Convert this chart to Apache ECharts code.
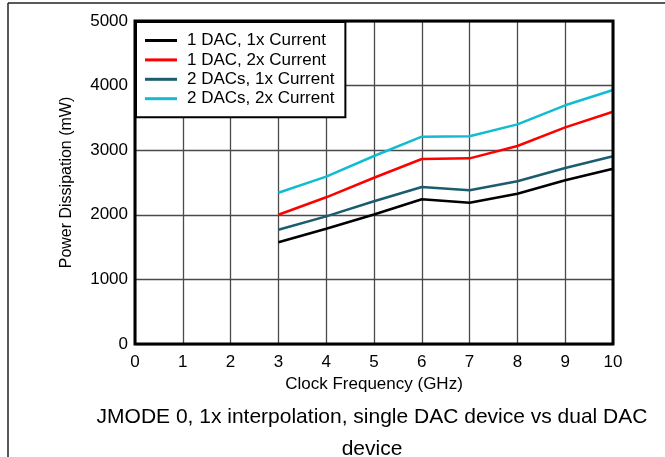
<!DOCTYPE html>
<html>
<head>
<meta charset="utf-8">
<script src="https://cdn.jsdelivr.net/npm/echarts@6/dist/echarts.min.js"></script>
<style>
  html, body { margin: 0; padding: 0; background: #fff; }
  #chart { width: 665px; height: 457px; }
</style>
</head>
<body>
<div id="chart"></div>
<script>
// Clock frequency (GHz) and power dissipation (mW) per configuration
const freqGHz = [3, 4, 5, 6, 7, 8, 9, 10];
const oneDac1x = [1575, 1785, 2005, 2240, 2187, 2327, 2534, 2713];
const oneDac2x = [2001, 2271, 2574, 2864, 2874, 3065, 3354, 3596];
const twoDac1x = [1769, 1976, 2209, 2430, 2379, 2520, 2724, 2905];
const twoDac2x = [2342, 2590, 2910, 3209, 3215, 3400, 3695, 3932];

const seriesNames = ['1 DAC, 1x Current', '1 DAC, 2x Current', '2 DACs, 1x Current', '2 DACs, 2x Current'];
const seriesColors = ['#000000', '#ff0000', '#1b5d6e', '#12bcd0'];
const seriesValues = [oneDac1x, oneDac2x, twoDac1x, twoDac2x];

const xTicks = [0, 1, 2, 3, 4, 5, 6, 7, 8, 9, 10];
const yTicks = [0, 1000, 2000, 3000, 4000, 5000];

const FONT = '"Liberation Sans", Arial, sans-serif';

const chart = echarts.init(document.getElementById('chart'), null, { renderer: 'canvas' });

const series = seriesValues.map((vals, i) => ({
  name: seriesNames[i],
  type: 'line',
  data: freqGHz.map((f, j) => [f, vals[j]]),
  symbol: 'none',
  lineStyle: { color: seriesColors[i], width: 2.5 },
  itemStyle: { color: seriesColors[i] },
  z: 3
}));

chart.setOption({
  animation: false,
  backgroundColor: '#ffffff',
  textStyle: { fontFamily: FONT },
  title: {
    text: 'JMODE 0, 1x interpolation, single DAC device vs dual DAC\ndevice',
    left: 367,
    top: 396,
    textAlign: 'center',
    textStyle: { fontFamily: FONT, fontSize: 21, fontWeight: 'normal', color: '#000', lineHeight: 32 }
  },
  grid: {
    left: 135, top: 21, right: 52, bottom: 113,
    show: true,
    borderColor: '#000',
    borderWidth: 3,
    z: 4
  },
  legend: {
    orient: 'vertical',
    left: 136,
    top: 22,
    padding: [10, 11, 10, 9],
    backgroundColor: '#ffffff',
    borderColor: '#000',
    borderWidth: 2,
    itemWidth: 32,
    itemHeight: 16,
    itemGap: 2.4,
    icon: 'path://M0,0 L32,0 L32,3 L0,3 Z',
    textStyle: { fontFamily: FONT, fontSize: 17, color: '#000', lineHeight: 17, padding: [0, 0, 0, 5] },
    data: seriesNames.map((n, i) => ({ name: n, itemStyle: { color: seriesColors[i] } })),
    z: 10
  },
  xAxis: {
    type: 'value',
    min: xTicks[0],
    max: xTicks[xTicks.length - 1],
    interval: 1,
    name: 'Clock Frequency (GHz)',
    nameLocation: 'middle',
    nameGap: 30,
    nameTextStyle: { fontFamily: FONT, fontSize: 17, color: '#000' },
    axisLine: { show: false },
    axisTick: { show: false },
    axisLabel: { fontFamily: FONT, fontSize: 17, color: '#000', margin: 10 },
    splitLine: { show: true, lineStyle: { color: '#4a4a4a', width: 1.3 } }
  },
  yAxis: {
    type: 'value',
    min: yTicks[0],
    max: yTicks[yTicks.length - 1],
    interval: 1000,
    name: 'Power Dissipation (mW)',
    nameLocation: 'middle',
    nameGap: 60,
    nameRotate: 90,
    nameTextStyle: { fontFamily: FONT, fontSize: 16, color: '#000' },
    axisLine: { show: false },
    axisTick: { show: false },
    axisLabel: { fontFamily: FONT, fontSize: 17, color: '#000', margin: 7, formatter: v => String(v) },
    splitLine: { show: true, lineStyle: { color: '#4a4a4a', width: 1.3 } }
  },
  graphic: [
    { type: 'line', shape: { x1: 8, y1: 3, x2: 665, y2: 3 }, style: { stroke: '#222', lineWidth: 1.5 }, silent: true },
    { type: 'line', shape: { x1: 8, y1: 3, x2: 8, y2: 457 }, style: { stroke: '#222', lineWidth: 1.5 }, silent: true }
  ],
  series: series
});
</script>
</body>
</html>
